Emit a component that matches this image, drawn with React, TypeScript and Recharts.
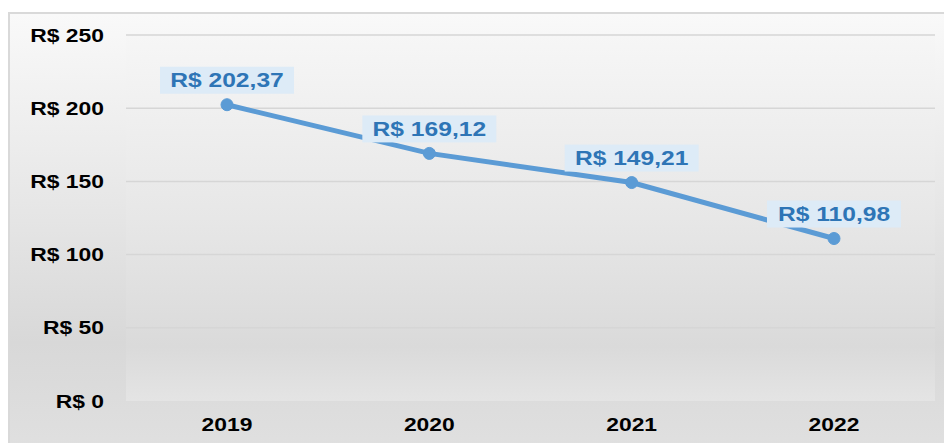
import { CartesianGrid, LabelList, Line, LineChart, XAxis, YAxis } from "recharts"

const years = ["2019", "2020", "2021", "2022"]
const prices = [202.37, 169.12, 149.21, 110.98]
const yTicks = [0, 50, 100, 150, 200, 250]

const data = years.map((year, i) => ({ year, price: prices[i] }))

const FONT = "'Liberation Sans', Arial, sans-serif"
// the original text is a bit stretched sideways
const STRETCH = 1.23

const brl = (value: number, decimals = 2) =>
  `R$ ${value.toFixed(decimals).replace(".", ",")}`

function PriceLabel(props: any) {
  const { x, y, value } = props
  const w = 134
  const h = 27
  const cy = y - 24.5
  return (
    <g>
      <rect x={x - w / 2} y={cy - h / 2} width={w} height={h} fill="#ddebf7" />
      <g transform={`translate(${x},${cy}) scale(${STRETCH},1)`}>
        <text
          x={0}
          y={0}
          dy="0.36em"
          textAnchor="middle"
          fill="#2e75b6"
          fontFamily={FONT}
          fontWeight="bold"
          fontSize={20}
        >
          {brl(Number(value))}
        </text>
      </g>
    </g>
  )
}

function YTick(props: any) {
  const { x, y, payload } = props
  return (
    <g transform={`translate(${x},${y}) scale(${STRETCH},1)`}>
      <text
        x={0}
        y={0}
        dy="0.355em"
        textAnchor="end"
        fill="#000"
        fontFamily={FONT}
        fontWeight="bold"
        fontSize={18.6}
      >
        {brl(Number(payload.value), 0)}
      </text>
    </g>
  )
}

function XTick(props: any) {
  const { x, y, payload } = props
  return (
    <g transform={`translate(${x},${y}) scale(${STRETCH},1)`}>
      <text
        x={0}
        y={0}
        dy="0.71em"
        textAnchor="middle"
        fill="#000"
        fontFamily={FONT}
        fontWeight="bold"
        fontSize={18.6}
      >
        {payload.value}
      </text>
    </g>
  )
}

export default function App() {
  return (
    <div style={{ width: 944, height: 431, marginTop: 4, overflow: "hidden" }}>
      <div
        style={{
          width: 960,
          height: 440,
          boxSizing: "border-box",
          borderTop: "2px solid #d9d9d9",
          borderLeft: "2px solid #d9d9d9",
          background:
            "linear-gradient(to bottom, #f9f9f9 0%, #e6e6e6 45%, #d8d8d8 75%, #e0e0e0 100%)",
        }}
      >
        <LineChart
          width={958}
          height={438}
          data={data}
          margin={{ top: 21, right: 33, bottom: 21, left: 0 }}
        >
          <defs>
            <linearGradient id="plotFill" x1="0" y1="0" x2="0" y2="1">
              <stop offset="0%" stopColor="#f6f6f6" />
              <stop offset="50%" stopColor="#e7e7e7" />
              <stop offset="85%" stopColor="#dadada" />
              <stop offset="100%" stopColor="#e4e4e4" />
            </linearGradient>
          </defs>
          <CartesianGrid
            vertical={false}
            fill="url(#plotFill)"
            stroke="#d6d6d6"
            strokeWidth={1.5}
            horizontalValues={[50, 100, 150, 200, 250]}
          />
          <XAxis
            dataKey="year"
            axisLine={false}
            tickLine={false}
            tickSize={0}
            tickMargin={16.5}
            height={30}
            padding={{ left: 101, right: 101 }}
            tick={<XTick />}
          />
          <YAxis
            domain={[0, 250]}
            ticks={yTicks}
            axisLine={false}
            tickLine={false}
            tickSize={0}
            tickMargin={22}
            width={116}
            tick={<YTick />}
          />
          <Line
            dataKey="price"
            stroke="#5b9bd5"
            strokeWidth={5}
            dot={{ r: 6, fill: "#5b9bd5", stroke: "#5b9bd5", strokeWidth: 1 }}
            isAnimationActive={false}
          >
            <LabelList dataKey="price" content={PriceLabel} />
          </Line>
        </LineChart>
      </div>
    </div>
  )
}
